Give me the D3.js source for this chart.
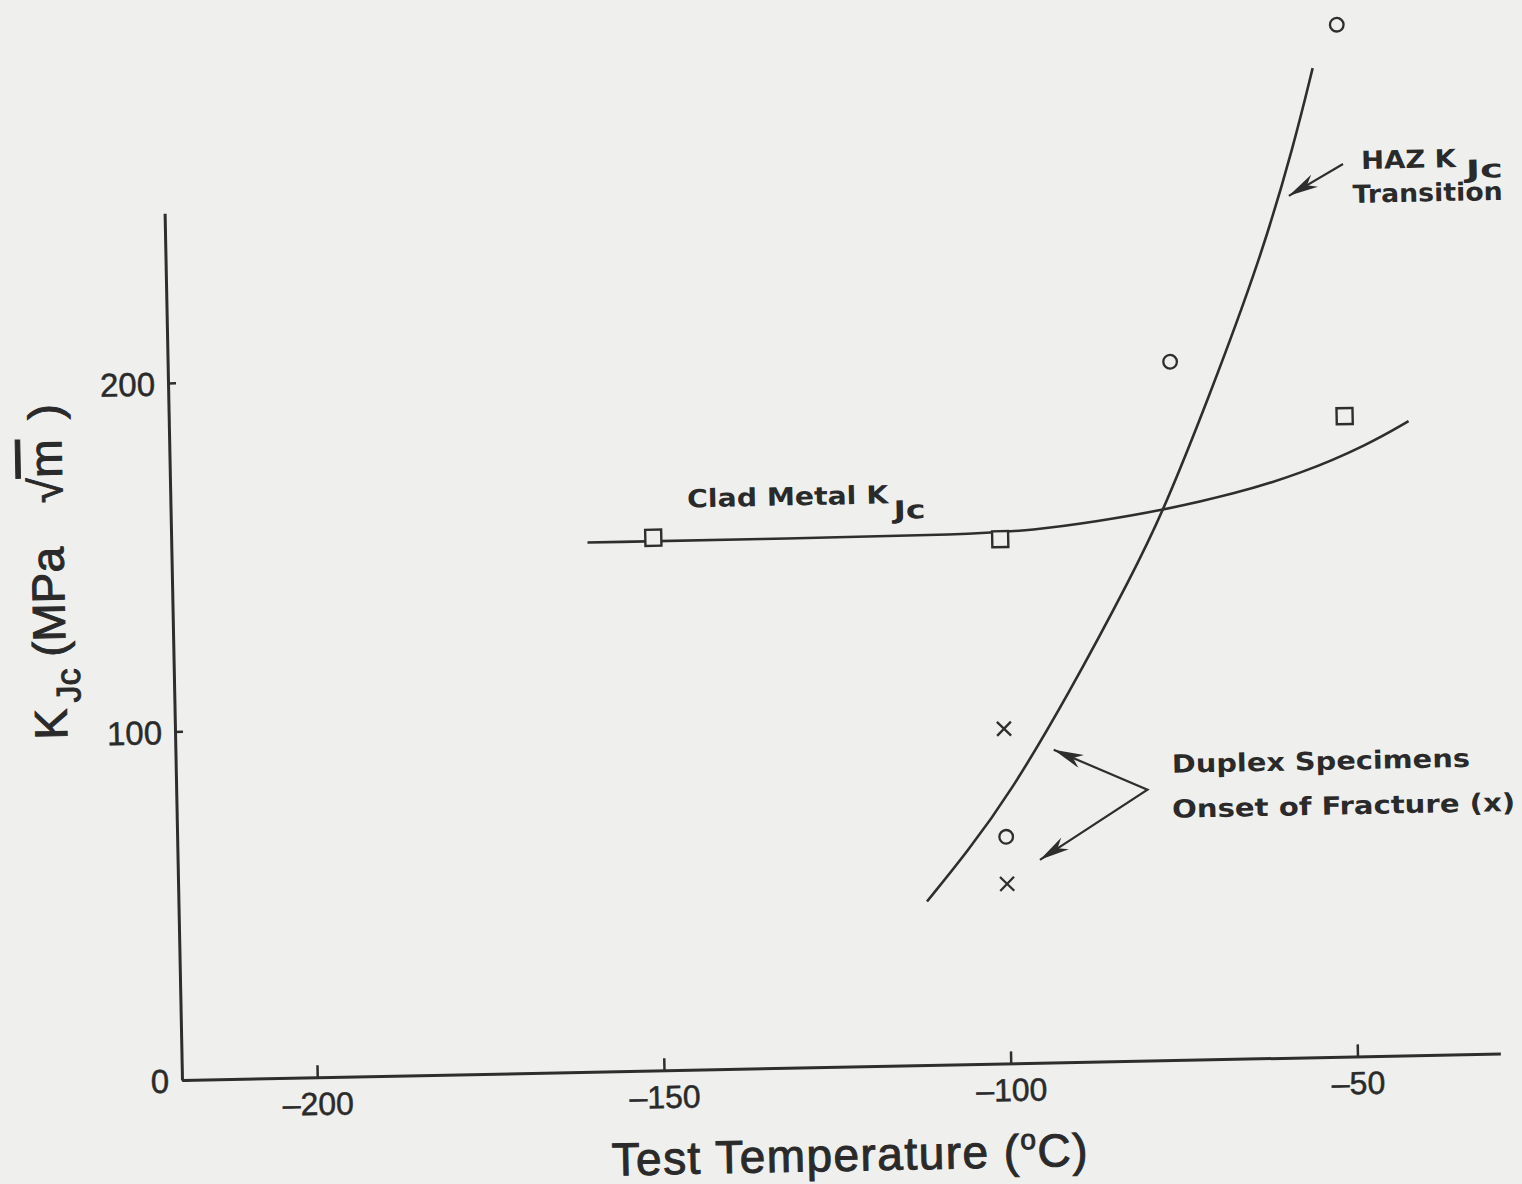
<!DOCTYPE html>
<html>
<head>
<meta charset="utf-8">
<script src="https://cdn.jsdelivr.net/npm/d3@7/dist/d3.min.js"></script>
<style>
  html, body { margin: 0; padding: 0; background: #efefed; }
  svg { display: block; }
  text { fill: #2a2a2a; }
</style>
</head>
<body>
<svg id="chart" width="1522" height="1184"></svg>
<script>
// ---------------- data ----------------
const xTicks = [-200, -150, -100, -50];
const yTicks = [0, 100, 200];

// Clad metal K_Jc measurements (open squares)
const cladTemp = [-150, -100, -50];
const cladKjc  = [152.8, 150.4, 183.7];

// HAZ K_Jc measurements (open circles)
const hazTemp = [-50, -75, -100];
const hazKjc  = [296, 200.3, 65];

// Duplex specimens, onset of fracture (crosses)
const duplexTemp = [-100, -100];
const duplexKjc  = [96, 51.5];

// Clad metal K_Jc trend curve
const cladCurveTemp = [-159.5, -130, -105, -95, -86, -76.4, -66.2, -56.5, -46.8, -40.8];
const cladCurveKjc  = [151.8, 151.8, 151.9, 152.8, 154.9, 157.8, 162.0, 167.4, 175.3, 181.9];

// HAZ K_Jc transition curve
const hazCurveTemp = [-111.6, -105.6, -99.3, -90.8, -80.9, -76.4, -69.7, -61.6, -56.5, -53.6];
const hazCurveKjc  = [46.9, 61.0, 77.6, 104.8, 140.0, 157.6, 188.9, 229.6, 262.0, 283.7];

// annotation arrows (data units)
const hazArrow = [[-49.5, 256.0], [-57.4, 247.2]];
const duplexArrow = [[-92.9, 89.7], [-79.5, 77.7], [-95.2, 58.2]];

// annotation labels (data-unit anchors)
const labels = [
  { text: 'HAZ K', at: [-46.9, 254.5], len: 95 },
  { text: 'Jc', at: [-31.8, 251.3], len: 37 },
  { text: 'Transition', at: [-48.2, 244.8], len: 150 },
  { text: 'Clad Metal K', at: [-145.0, 161.3], len: 201 },
  { text: 'Jc', at: [-115.3, 156.9], len: 32 },
  { text: 'Duplex Specimens', at: [-75.9, 82.4], len: 298 },
  { text: 'Onset of Fracture (x)', at: [-76.0, 69.5], len: 343 }
];

// ---------------- layout ----------------
const svg = d3.select('#chart');
svg.append('rect').attr('width', 1522).attr('height', 1184).attr('fill', '#efefed');

const x = d3.scaleLinear().domain([-219.5, -29.4]).range([0, 1318.6]);
const y = d3.scaleLinear().domain([0, 248.7]).range([0, -867]);

const ink = '#2e2e2e';

const defs = svg.append('defs');
defs.append('marker')
  .attr('id', 'ah')
  .attr('viewBox', '0 0 30 14')
  .attr('refX', 30).attr('refY', 7)
  .attr('markerWidth', 30).attr('markerHeight', 14)
  .attr('markerUnits', 'userSpaceOnUse')
  .attr('orient', 'auto-start-reverse')
  .append('path').attr('d', 'M0,0 L30,7 L0,14 L9,7 Z').attr('fill', ink);

const g = svg.append('g').attr('transform', 'translate(182,1080) rotate(-1.15)');

const fmt = d => (d < 0 ? '\u2013' + Math.abs(d) : String(d));

const xAxis = g.append('g')
  .call(d3.axisBottom(x).tickValues(xTicks).tickSizeInner(-12).tickSizeOuter(0).tickPadding(15).tickFormat(fmt));
const yAxis = g.append('g')
  .call(d3.axisLeft(y).tickValues(yTicks).tickSizeInner(-8).tickSizeOuter(0).tickPadding(13).tickFormat(fmt));

[xAxis, yAxis].forEach(a => {
  a.select('.domain').attr('stroke', ink).attr('stroke-width', 3);
  a.selectAll('.tick line').attr('stroke', ink).attr('stroke-width', 2.5);
  a.selectAll('.tick text')
    .attr('font-family', 'Liberation Sans, Arial, sans-serif')
    .attr('font-size', 32).attr('fill', '#2a2a2a')
    .attr('stroke', '#2a2a2a').attr('stroke-width', 0.5);
});
yAxis.selectAll('.tick text').attr('font-size', 33).attr('dy', '0.36em');

// curves
const smooth = d3.line().x(d => x(d[0])).y(d => y(d[1])).curve(d3.curveBasis);
g.append('path').datum(cladCurveTemp.map((t, i) => [t, cladCurveKjc[i]]))
  .attr('d', smooth).attr('fill', 'none').attr('stroke', ink).attr('stroke-width', 2.6);
g.append('path').datum(hazCurveTemp.map((t, i) => [t, hazCurveKjc[i]]))
  .attr('d', smooth).attr('fill', 'none').attr('stroke', ink).attr('stroke-width', 2.6);

// markers
g.selectAll('rect.sq').data(cladTemp.map((t, i) => [t, cladKjc[i]])).join('rect')
  .attr('class', 'sq')
  .attr('x', d => x(d[0]) - 8).attr('y', d => y(d[1]) - 8)
  .attr('width', 16).attr('height', 16)
  .attr('fill', '#efefed').attr('stroke', ink).attr('stroke-width', 2.4);

g.selectAll('circle.ci').data(hazTemp.map((t, i) => [t, hazKjc[i]])).join('circle')
  .attr('class', 'ci')
  .attr('cx', d => x(d[0])).attr('cy', d => y(d[1])).attr('r', 6.8)
  .attr('fill', 'none').attr('stroke', ink).attr('stroke-width', 2.3);

g.selectAll('path.cr').data(duplexTemp.map((t, i) => [t, duplexKjc[i]])).join('path')
  .attr('class', 'cr')
  .attr('d', d => {
    const cx = x(d[0]), cy = y(d[1]), r = 7;
    return `M${cx - r},${cy - r}L${cx + r},${cy + r}M${cx - r},${cy + r}L${cx + r},${cy - r}`;
  })
  .attr('stroke', ink).attr('stroke-width', 2.3).attr('fill', 'none');

// arrows
const straight = d3.line().x(d => x(d[0])).y(d => y(d[1]));
g.append('path').datum(hazArrow).attr('d', straight)
  .attr('fill', 'none').attr('stroke', ink).attr('stroke-width', 2.2)
  .attr('marker-end', 'url(#ah)');
g.append('path').datum(duplexArrow).attr('d', straight)
  .attr('fill', 'none').attr('stroke', ink).attr('stroke-width', 2.2)
  .attr('marker-start', 'url(#ah)').attr('marker-end', 'url(#ah)');

// annotation text
g.selectAll('text.ann').data(labels).join('text')
  .attr('class', 'ann')
  .attr('x', d => x(d.at[0])).attr('y', d => y(d.at[1]))
  .attr('font-family', 'DejaVu Sans, Verdana, sans-serif')
  .attr('font-weight', 'bold').attr('font-size', 25)
  .attr('textLength', d => d.len).attr('lengthAdjust', 'spacingAndGlyphs')
  .text(d => d.text);

// axis titles
const titleFont = 'Liberation Sans Narrow, Arial Narrow, Liberation Sans, sans-serif';
const xt = g.append('text')
  .attr('x', x(-123.5)).attr('y', 104)
  .attr('text-anchor', 'middle')
  .attr('font-family', titleFont).attr('font-size', 46)
  .attr('stroke', '#2a2a2a').attr('stroke-width', 1)
  .attr('textLength', 476).attr('lengthAdjust', 'spacing');
xt.append('tspan').text('Test Temperature (');
xt.append('tspan').text('o').attr('font-size', 28).attr('dy', -18);
xt.append('tspan').text('C)').attr('dy', 18);

const yt = g.append('text')
  .attr('transform', `translate(-108,${y(146.5)}) rotate(-90)`)
  .attr('text-anchor', 'middle')
  .attr('font-family', titleFont).attr('font-size', 46)
  .attr('stroke', '#2a2a2a').attr('stroke-width', 1);
yt.append('tspan').text('K');
yt.append('tspan').text('Jc').attr('font-size', 34).attr('dy', 14).attr('dx', 6);
yt.append('tspan').text('(MPa').attr('dy', -14).attr('dx', 12);
yt.append('tspan').text('\u221A').attr('dx', 44);
yt.append('tspan').text('m').attr('text-decoration', 'overline');
yt.append('tspan').text(')').attr('dx', 20);
</script>
</body>
</html>
